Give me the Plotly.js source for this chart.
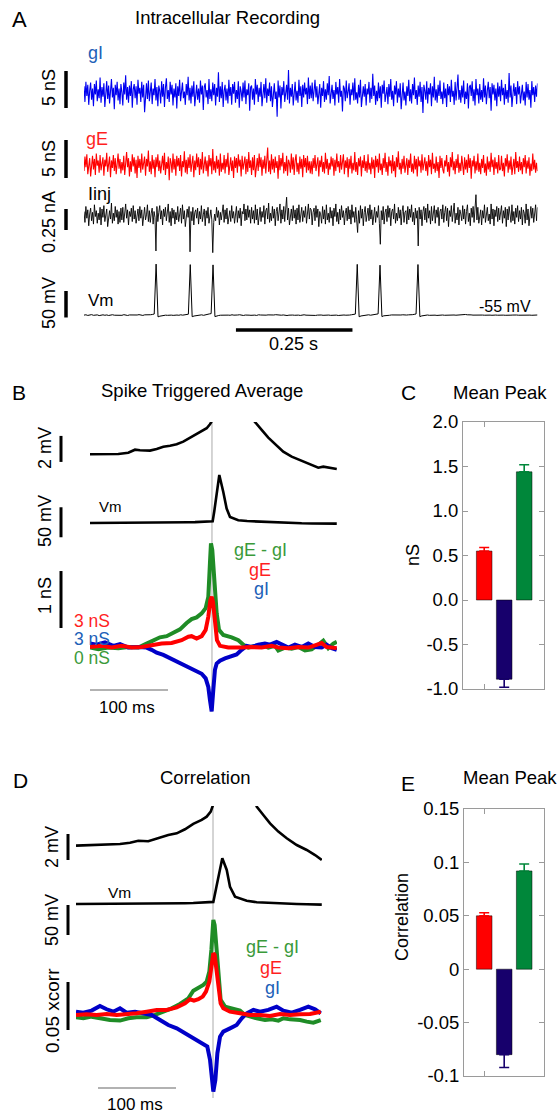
<!DOCTYPE html>
<html><head><meta charset="utf-8">
<script src="https://cdn.plot.ly/plotly-3.0.1.min.js"></script>
<style>html,body{margin:0;padding:0;background:#fff}#plot{width:560px;height:1114px}</style>
</head><body><div id="plot"></div>
<script>
// ================= DATA =================
// Panel A: samples evenly spaced over the recording (seconds)
const recDuration = 0.973;
const gI_rec = [0.9,-1.2,1.5,-0.4,1.1,-1.6,0.3,1.4,-0.9,0.6,-1.8,1.2,-0.2,1.7,-1.1,0.5,-0.7,2.1,-1.3,0.8,
-0.5,1.3,-1.9,0.2,1.6,-0.8,1.0,-1.4,0.4,1.9,-0.6,0.7,-2.2,1.1,-0.3,1.5,-1.0,0.6,-1.5,1.2,
0.1,-1.7,1.4,-0.2,2.4,-0.9,0.8,-1.3,1.0,-0.4,1.6,-2.0,0.5,1.2,-0.7,0.9,-1.6,1.8,-0.1,0.7,
-1.2,1.5,-0.6,1.1,-2.6,0.4,1.3,-0.8,1.7,-1.1,0.2,1.4,-1.5,0.6,-0.3,1.9,-1.0,0.8,-1.8,1.0,
0.3,-1.4,1.6,-0.5,1.2,-1.9,0.7,2.0,-0.8,0.4,-1.2,1.5,-0.2,1.1,-1.7,0.6,-0.6,1.3,-2.1,0.9,
-0.4,1.8,-1.1,0.5,1.4,-0.7,0.2,-1.6,1.2,-0.3,2.2,-1.0,0.7,-1.4,1.0,-0.5,1.6,-1.8,0.3,1.1,
-0.9,0.6,-1.3,1.7,-0.2,1.0,-2.3,0.8,1.3,-0.6,0.4,-1.5,1.9,-0.8,0.5,-1.1,1.4,-0.3,1.2,-1.7,
0.7,-0.5,2.8,-1.2,0.9,-0.7,1.5,-1.9,0.3,1.1,-1.0,0.6,-1.4,1.8,-0.4,0.8,-1.6,1.2,-0.1,1.5,
-1.3,0.4,-0.8,1.6,-2.0,0.9,0.2,-1.1,1.4,-0.6,1.7,-1.5,0.5,-0.3,1.3,-2.4,0.8,1.0,-0.9,0.6,
-1.6,1.9,-0.2,1.1,-1.2,0.7,-0.5,1.5,-1.8,0.4,1.2,-0.7,2.0,-1.3,0.6,-0.4,1.4,-1.1,0.9,-1.9,
0.5,1.3,-0.8,0.2,-3.2,1.7,-0.6,1.0,-2.1,0.8,-0.3,1.6,-1.2,0.4,1.1,-0.9,3.1,-1.4,0.7,-0.5,
1.2,-1.7,0.6,1.5,-1.0,0.3,-1.3,1.8,-0.4,0.9,-1.9,1.1,-0.6,1.4,-0.2,0.7,-1.5,2.1,-0.8,1.0,
-0.7,1.4,-1.1,0.3,1.8,-0.6,0.9,-1.5,0.2,1.2,-2.0,0.7,-0.4,1.6,-1.2,0.5,-0.9,1.3,-0.3,2.3,
-1.4,0.6,1.1,-0.8,0.4,-1.7,1.5,-0.2,0.8,-1.3,1.9,-0.5,0.3,-2.5,1.0,0.6,-1.1,1.7,-0.7,0.2,
1.3,-1.6,0.5,-0.3,1.4,-1.0,2.0,-0.9,0.1,-1.4,1.1,-0.6,1.8,-1.9,0.4,0.9,-0.5,1.2,-1.7,0.6,
-0.2,1.5,-1.3,0.7,-0.8,2.6,-0.4,1.0,-1.6,0.3,-1.1,1.4,-0.7,0.9,-2.0,1.1,-0.1,1.7,-1.2,0.4,
0.8,-1.5,1.2,-0.5,1.9,-0.9,0.3,-1.8,1.0,-0.2,1.6,-1.3,0.6,-0.6,1.3,-2.2,0.7,1.4,-1.0,0.2,
-1.7,0.9,-0.4,1.8,-1.1,0.5,-1.4,1.2,-0.3,2.1,-0.8,0.4,-1.6,1.0,-0.5,1.5,-1.2,0.8,-2.7,1.1,
0.3,-0.9,1.6,-1.4,0.7,-0.2,1.3,-1.8,0.9,-0.6,2.2,-1.0,0.5,-1.3,1.1,-0.4,1.7,-0.8,0.2,-1.5,
1.4,-0.7,0.6,-1.9,1.2,-0.3,0.9,-1.2,1.8,-0.5,0.3,-1.6,1.5,-1.0,0.7,2.5,-0.9,0.4,-1.3,1.0,
-0.6,1.7,-1.5,0.2,-0.8,1.3,-2.1,0.8,1.1,-0.4,1.6,-1.1,0.5,-1.7,1.9,-0.3,0.6,-1.4,1.2,-0.9,
0.4,-1.2,2.0,-0.6,1.0,-1.5,0.3,1.5,-0.7,0.8,-2.4,1.3,-0.2,1.1,-1.0,0.6,-1.8,1.4,-0.5,0.9,
-1.1,1.8,-0.3,0.7,-1.6,1.2,-0.8,0.4,-1.3,2.7,-0.6,1.0,-1.9,0.5,1.3,-0.4,0.8,-1.5,1.6,-0.2,
0.9,-1.4,0.5,1.1,-1.0,0.2,-1.7,1.5,-0.6,1.2,-0.9,0.4,-2.0,1.6,-0.3,0.8,-1.2,1.0,-0.5,1.3];
const gE_rec = [-0.8,1.1,-0.3,1.4,-1.2,0.5,0.9,-1.5,0.2,1.2,-0.6,0.8,-1.3,1.5,-0.1,0.6,-1.0,1.3,-0.7,0.4,
1.0,-1.4,0.7,-0.2,1.6,-0.9,0.3,1.1,-1.6,0.6,-0.4,1.3,-0.8,0.9,-1.2,0.2,1.5,-0.5,0.8,-1.1,
0.4,-0.7,1.2,-1.3,0.6,1.7,-0.3,0.9,-1.5,0.5,-0.9,1.4,-0.2,1.0,-1.1,0.7,-1.7,1.2,-0.4,0.8,
-1.0,1.5,-0.6,0.3,1.1,-1.4,0.8,-0.2,1.9,-0.9,0.5,-1.2,1.3,-0.5,0.7,-1.6,1.0,-0.3,1.4,-0.8,
0.6,-1.1,0.2,1.2,-0.7,1.6,-1.3,0.4,-0.5,1.1,-2.0,0.9,0.3,-1.0,1.5,-0.6,0.8,-1.4,1.2,-0.2,
0.9,-0.8,1.3,-1.5,0.5,-0.3,1.8,-1.0,0.7,-1.2,1.0,-0.4,1.4,-0.9,0.2,1.2,-1.6,0.6,-0.7,1.5,
-0.3,1.0,-1.3,0.8,-0.6,1.7,-1.1,0.4,1.1,-0.8,0.6,-1.5,1.3,-0.2,0.9,-1.2,2.1,-0.7,0.5,-1.0,
1.2,-0.5,0.7,-1.4,1.5,-0.9,0.3,-0.6,1.3,-1.1,0.8,-0.3,1.6,-1.3,0.4,1.0,-0.8,0.6,-1.7,1.1,
-0.4,0.9,-1.0,1.4,-0.2,0.7,-1.5,1.2,-0.6,0.5,1.1,-1.2,0.8,-0.9,1.7,-0.4,0.6,-1.3,1.0,-0.7,
1.3,-1.6,0.4,0.9,-0.8,1.5,-0.3,1.0,-1.4,0.7,-0.5,1.2,-1.1,0.3,2.3,-0.9,0.6,-1.2,1.4,-0.6,
0.8,-1.0,1.1,-0.4,0.5,-1.8,1.3,-0.7,0.9,-0.2,1.6,-1.1,0.4,-0.8,1.2,-1.4,0.7,0.2,-1.0,1.5,
-0.6,1.0,-1.3,0.6,1.4,-0.9,0.3,-1.2,1.1,-0.5,0.8,-1.6,1.3,-0.3,0.9,-1.0,1.2,-0.7,0.5,-1.1,
0.5,-1.2,0.9,-0.4,1.3,-0.8,0.2,1.0,-1.5,0.6,-0.3,1.2,-0.9,0.4,-1.1,1.6,-0.5,0.8,-1.3,0.3,
-0.6,1.1,-0.2,0.9,-1.4,0.7,-0.8,1.5,-0.3,0.5,-1.0,1.3,-0.6,0.2,1.4,-1.2,0.6,-0.4,1.0,-1.6,
0.8,-0.5,1.2,-1.1,0.3,-0.7,1.7,-0.9,0.4,-1.3,0.9,-0.2,1.1,-1.5,0.6,-0.4,1.3,-0.8,0.5,-1.0,
1.4,-0.6,0.3,-1.2,1.0,-0.5,0.7,-1.7,1.2,-0.3,0.8,-1.0,1.5,-0.7,0.2,-1.3,0.9,-0.4,1.6,-0.9,
0.4,-1.4,1.1,-0.2,0.6,-1.1,1.3,-0.8,0.5,-1.6,1.0,-0.3,1.8,-0.6,0.3,-1.2,0.8,-0.5,1.2,-1.0,
-0.3,0.9,-1.3,0.7,-0.4,1.5,-0.9,0.2,-1.1,1.2,-0.6,0.8,-1.5,1.1,-0.2,0.6,-1.0,1.4,-0.7,0.3,
1.0,-0.8,0.5,-1.4,1.3,-0.3,0.7,-1.2,1.6,-0.5,0.2,-1.0,1.1,-0.8,0.4,-1.7,1.2,-0.4,0.9,-0.6,
-1.1,0.6,-0.2,1.3,-0.9,0.4,-1.5,1.0,-0.3,1.7,-0.7,0.5,-1.2,0.8,-0.4,1.4,-1.0,0.3,-0.8,1.2,
0.2,-1.3,1.0,-0.6,0.7,-1.0,1.4,-0.4,0.9,-1.8,0.6,-0.2,1.2,-1.1,0.5,-0.7,1.5,-0.9,0.3,-1.2,
0.8,-0.4,1.3,-1.0,0.2,-1.4,1.1,-0.6,0.5,-0.9,1.6,-0.3,0.7,-1.3,1.0,-0.5,0.4,-1.1,1.3,-0.7,
-0.5,1.2,-0.8,0.3,-1.5,0.9,-0.2,1.4,-1.0,0.6,-0.6,1.1,-1.3,0.4,0.8,-1.2,1.7,-0.4,0.5,-0.9,
1.1,-0.7,0.4,-1.2,0.9,-0.3,1.3,-1.1,0.6,-0.5,1.0,-1.4,0.2,-0.8,1.5,-0.6,0.7,-1.0,0.3,-0.8];
const iinj_rec = [0.05,-0.08,0.11,-0.03,0.07,-0.12,0.02,0.09,-0.06,0.04,-0.10,0.13,-0.01,0.06,-0.09,0.03,-0.05,0.10,-0.11,0.08,
-0.02,0.12,-0.07,0.04,0.08,-0.13,0.01,0.06,-0.04,0.15,-0.09,0.03,-0.06,0.11,-0.02,0.07,-0.10,0.05,-0.08,0.09,
-0.05,0.10,-0.08,0.02,0.14,-0.03,0.07,-0.11,0.05,-0.01,0.09,-0.07,0.12,-0.04,0.06,-0.09,0.04,0.08,-0.06,0.11,
-0.03,0.07,-0.12,0.04,0.10,-0.05,0.01,0.13,-0.07,0.06,-0.08,0.03,0.09,-0.10,0.05,-0.02,-0.42,0.11,-0.07,0.04,
0.12,-0.04,0.06,-0.11,0.08,-0.01,0.10,-0.06,0.03,0.14,-0.08,0.05,-0.12,0.09,-0.03,0.07,-0.10,0.04,-0.05,0.11,
-0.07,0.02,0.09,-0.09,0.13,-0.04,0.06,-0.13,0.03,0.08,-0.02,0.11,-0.43,0.05,-0.06,0.10,-0.11,0.04,0.07,-0.03,
0.09,-0.10,0.05,-0.04,0.12,-0.07,0.01,0.08,-0.12,0.06,-0.03,0.10,-0.09,0.04,0.07,-0.05,-0.44,-0.08,0.02,-0.06,
0.10,-0.02,0.06,-0.11,0.04,-0.05,0.04,0.13,-0.08,0.07,-0.04,0.09,-0.10,0.03,0.06,-0.07,0.12,-0.03,0.05,-0.09,
0.04,0.11,-0.08,0.06,-0.03,0.09,-0.12,0.05,0.02,0.14,-0.06,0.08,-0.05,0.12,-0.02,0.07,-0.09,0.10,-0.04,0.06,
-0.09,0.13,-0.05,0.08,-0.11,0.03,0.10,-0.07,0.05,-0.02,0.12,-0.10,0.06,0.09,-0.04,0.15,-0.08,0.03,-0.06,0.11,
-0.03,0.08,-0.12,0.05,0.10,-0.06,0.02,0.14,-0.09,0.07,-0.04,0.11,-0.07,0.06,0.22,-0.05,0.09,-0.11,0.04,0.08,
-0.06,0.12,-0.03,0.07,-0.10,0.09,-0.05,0.13,-0.08,0.04,0.10,-0.07,0.06,-0.02,0.11,-0.09,0.05,0.14,-0.04,0.09,
0.07,-0.11,0.04,0.09,-0.06,0.12,-0.02,0.08,-0.13,0.05,0.01,-0.09,0.11,-0.04,0.07,-0.10,0.13,-0.05,0.03,-0.08,
0.10,-0.03,0.06,-0.12,0.09,-0.01,0.14,-0.07,0.04,-0.10,0.08,-0.05,0.12,-0.02,0.06,-0.11,0.03,0.09,-0.06,0.11,
-0.04,0.07,-0.10,0.13,-0.02,0.05,-0.08,0.10,-0.05,-0.20,0.06,-0.09,0.12,-0.03,0.08,-0.12,0.04,0.11,-0.07,0.02,
0.09,-0.06,0.13,-0.04,0.07,-0.11,0.03,0.10,-0.08,0.05,-0.02,0.12,-0.09,-0.34,0.06,-0.05,0.11,-0.10,0.04,0.08,
-0.07,0.12,-0.02,0.09,-0.12,0.05,0.08,-0.04,0.14,-0.09,0.03,-0.06,0.10,-0.03,0.07,-0.11,0.05,0.12,-0.08,0.04,
0.06,-0.10,0.11,-0.05,0.08,-0.02,0.13,-0.07,0.04,-0.11,0.09,-0.03,0.06,-0.36,0.10,-0.04,0.07,-0.12,0.05,0.11,
-0.05,0.09,-0.08,0.14,-0.03,0.06,-0.10,0.11,-0.06,0.03,0.12,-0.09,0.07,-0.02,0.10,-0.12,0.05,0.08,-0.04,0.13,
-0.08,0.04,0.11,-0.06,0.09,-0.13,0.06,-0.01,0.12,-0.07,0.05,0.15,-0.09,0.03,-0.05,0.10,-0.11,0.07,0.02,-0.06,
0.12,-0.04,0.08,-0.10,0.05,0.13,-0.07,0.03,-0.12,0.09,-0.02,0.11,-0.08,0.06,0.25,-0.05,0.10,-0.09,0.04,0.07,
-0.11,0.06,-0.03,0.13,-0.08,0.05,0.10,-0.06,0.02,-0.10,0.14,-0.04,0.08,-0.12,0.07,-0.01,0.11,-0.07,0.09,-0.05,
0.04,0.12,-0.09,0.06,-0.03,0.10,-0.13,0.08,-0.05,0.11,0.02,-0.08,0.13,-0.06,0.05,-0.10,0.09,-0.02,0.12,-0.07,
0.06,-0.04,0.10,-0.11,0.07,0.03,-0.09,0.14,-0.05,0.08,-0.12,0.05,0.11,-0.03,0.09,-0.08,0.04,0.13,-0.06,0.10];
const vm_rec = [-55.2,-54.6,-55.8,-55.1,-54.3,-55.6,-55.0,-54.8,-56.1,-55.3,-54.7,-55.5,-54.9,-55.9,-55.2,-54.5,-55.4,-55.7,-54.8,-55.1,
-55.6,-54.4,-55.3,-55.9,-54.9,-55.2,-54.6,-55.7,-55.0,-54.3,-55.5,-55.8,-54.7,-55.1,-55.4,-54.5,-54.0,-53.2,41.0,-58.5,
-57.2,-56.4,-55.8,-55.3,-55.6,-54.9,-55.2,-55.7,-54.8,-55.1,-55.5,-54.6,-55.3,-55.0,-54.2,-53.5,40.0,-58.2,-56.9,-56.0,
-55.4,-55.1,-54.7,-55.6,-54.4,-53.8,-53.0,-52.4,39.5,-58.0,-56.6,-55.9,-55.4,-55.0,-55.7,-54.8,-55.2,-55.5,-54.6,-55.3,
-55.8,-55.0,-54.5,-55.4,-55.9,-55.1,-54.7,-55.3,-55.6,-54.9,-55.2,-55.8,-54.6,-55.0,-55.5,-55.9,-55.3,-54.8,-55.1,-55.6,
-55.0,-54.4,-55.2,-55.7,-55.4,-54.9,-55.6,-56.0,-55.3,-54.8,-55.1,-55.5,-54.7,-55.2,-55.8,-55.0,-54.6,-55.3,-55.6,-55.1,
-54.9,-55.5,-55.8,-55.2,-54.7,-55.0,-55.6,-55.3,-54.5,-55.1,-55.7,-55.4,-54.8,-55.2,-55.9,-55.3,-54.6,-55.0,-55.4,-55.7,
-55.1,-54.5,-54.0,-53.3,40.5,-58.3,-56.8,-55.9,-55.3,-55.0,-54.6,-55.4,-55.1,-54.3,-53.7,-52.9,39.0,-58.0,-56.5,-55.7,
-55.2,-55.5,-54.9,-55.1,-55.6,-54.8,-55.3,-55.0,-54.6,-55.4,-55.1,-54.7,-55.2,-54.4,-53.8,-53.1,40.2,-58.1,-56.7,-55.8,
-55.4,-55.0,-55.6,-55.2,-54.7,-55.3,-55.8,-55.1,-54.6,-55.0,-55.5,-55.2,-54.8,-54.3,-54.6,-55.0,-55.4,-54.9,-54.5,-54.1,
-54.4,-54.0,-54.6,-54.2,-54.8,-55.2,-54.9,-55.3,-55.0,-54.7,-55.1,-55.4,-55.0,-54.6,-55.2,-55.5,-54.9,-55.1,-55.4,-55.0,
-54.7,-55.2,-55.5,-55.0,-54.8,-55.3,-55.1,-54.6,-55.0,-55.4,-55.2,-54.9,-55.3,-55.0,-54.7,-55.2,-55.5,-55.1,-54.8,-55.0];

// Panel B: spike-triggered averages (time in ms)
const staVm_t = [-156.4,-137.2,-120.1,-107.3,-98.7,-92.3,-79.5,-70.9,-62.4,-53.8,-45.3,-36.8,-30.4,-21.8,-13.2,-6.8,-2.6,-0.4,0.9,3.0,6.0,9.4,14.5,18.8,23.1,33.7,45.0,57.3,63.7,72.2,82.9,91.4,102.2,115.0,127.8,136.3,142.7,151.3,160.0];
const staVm_v = [-57.0,-57.0,-56.98,-56.88,-56.65,-56.69,-56.72,-56.59,-56.42,-56.34,-56.23,-56.03,-55.82,-55.52,-55.26,-55.0,-54.69,-54.49,-54.0,-37.0,-10.0,23.0,-5.3,-33.0,-47.0,-52.5,-53.8,-54.62,-55.13,-55.72,-56.28,-56.8,-57.18,-57.49,-57.77,-58.03,-57.95,-58.03,-58.13];
const staDiff_t = [-156.4,-145.7,-132.9,-120.1,-107.3,-94.4,-83.8,-75.2,-66.7,-58.1,-49.6,-41.0,-32.5,-26.1,-19.7,-13.2,-8.1,-4.7,-2.6,-1.3,0.4,3.0,6.0,9.0,14.5,25.2,33.8,40.2,46.6,55.1,63.7,72.2,80.8,85.0,93.6,102.1,110.7,119.2,127.8,136.3,142.7,149.1,155.5,160.0];
const staDiff = [-0.01,-0.04,-0.01,-0.02,0.0,-0.01,0.06,0.12,0.17,0.19,0.25,0.31,0.42,0.49,0.52,0.59,0.68,0.88,1.47,1.82,1.70,1.18,0.59,0.30,0.21,0.17,0.12,0.04,-0.01,0.02,0.04,-0.01,0.02,-0.06,-0.01,-0.03,0.0,-0.06,-0.04,0.04,0.11,-0.02,0.06,0.09];
const staGE_t = [-156.4,-141.5,-128.6,-115.8,-103.0,-90.2,-77.4,-64.5,-51.7,-38.9,-30.3,-26.1,-19.7,-13.2,-8.1,-4.7,-2.1,-0.4,1.3,3.8,6.4,10.3,20.9,38.0,50.9,63.7,76.5,85.0,97.9,110.7,123.5,132.1,140.6,147.0,155.5,160.0];
const staGE = [3.00,3.02,2.99,3.02,2.99,3.00,3.03,3.06,3.07,3.12,3.18,3.19,3.15,3.19,3.30,3.53,3.82,3.88,3.79,3.42,3.12,3.02,2.99,2.99,3.00,2.99,3.02,2.99,2.98,3.00,2.99,3.03,3.07,3.00,2.99,2.98];
const staGI_t = [-156.4,-147.9,-137.2,-126.5,-117.9,-107.3,-94.4,-83.8,-77.4,-70.9,-62.4,-53.8,-45.3,-36.8,-28.2,-19.7,-13.2,-8.1,-4.7,-2.6,-0.4,1.7,3.8,6.0,10.3,16.7,25.2,31.6,38.0,44.4,50.9,59.4,67.9,74.4,82.9,89.3,97.9,106.4,115.0,123.5,132.1,140.6,147.0,153.5,160.0];
const staGI = [3.06,3.04,3.08,3.02,3.05,2.99,3.00,2.99,2.95,2.90,2.86,2.80,2.74,2.68,2.63,2.57,2.53,2.45,2.30,2.07,1.87,2.25,2.60,2.71,2.76,2.80,2.84,2.87,2.95,3.02,3.00,3.04,3.06,3.04,3.09,3.04,2.99,3.04,3.00,3.06,3.00,2.99,3.04,2.98,2.95];

// Panel C: mean peak conductance (nS)
const barLabels = ['gE', 'gI', 'gE - gI'];
const peakNS = [0.55, -0.89, 1.44];
const peakNS_err = [0.04, 0.09, 0.08];
const nsTickVals = [-1, -0.5, 0, 0.5, 1, 1.5, 2];
const nsTickText = ['-1.0', '-0.5', '0.0', '0.5', '1.0', '1.5', '2.0'];

// Panel D: correlation (time in ms)
const corVm_t = [-175.6,-157.7,-140.6,-119.2,-106.4,-95.8,-83.0,-70.1,-57.3,-46.5,-35.9,-25.3,-14.5,-8.1,-2.9,-0.4,0.4,4.0,8.0,11.9,17.6,21.8,28.2,43.2,56.0,64.5,73.1,83.7,94.5,107.3,120.1,130.8,139.4];
const corVm_v = [-57.0,-56.95,-56.89,-56.87,-56.77,-56.62,-56.66,-56.43,-56.18,-56.05,-55.74,-55.33,-55.02,-54.77,-54.38,-53.95,-53.5,-30.7,-5.8,19.2,-0.3,-28.2,-44.8,-51.5,-54.0,-54.64,-55.28,-55.92,-56.43,-56.95,-57.33,-57.72,-58.1];
const corDiff_t = [-175.6,-166.2,-155.6,-144.9,-132.1,-119.2,-108.5,-97.9,-85.0,-74.4,-63.7,-53.0,-42.3,-31.6,-25.2,-18.8,-12.4,-8.1,-4.7,-2.1,0.4,2.1,4.7,7.3,9.8,15.4,26.1,34.6,41.0,49.6,56.0,66.7,75.2,83.8,90.2,98.7,111.5,120.1,128.6,138.1];
const corDiff = [-0.0035,-0.0045,-0.0028,-0.0045,-0.0063,-0.0069,-0.0045,-0.0035,-0.0035,-0.001,0.0024,0.0059,0.0104,0.0163,0.0243,0.0267,0.0302,0.0337,0.0441,0.0667,0.0979,0.0927,0.0667,0.0319,0.0146,0.0076,0.0059,0.0035,-0.001,-0.0035,-0.0045,-0.0063,-0.0056,-0.0069,-0.0045,-0.0056,-0.0063,-0.008,-0.009,-0.0063];
const corGE_t = [-175.6,-162.0,-149.1,-136.3,-123.5,-110.7,-97.9,-85.0,-72.2,-59.4,-46.5,-35.9,-29.5,-24.4,-18.8,-13.2,-9.0,-4.7,-1.7,0.4,2.1,4.7,7.3,9.8,13.2,21.8,34.6,47.4,60.3,73.1,85.9,98.7,111.5,124.4,138.1];
const corGE = [-0.001,-0.0003,-0.001,0.0,-0.001,-0.0003,0.0007,0.0024,0.0042,0.0042,0.0069,0.0111,0.0153,0.0139,0.0153,0.0181,0.0233,0.0337,0.0493,0.0632,0.0615,0.0458,0.025,0.0111,0.0059,0.0024,0.0007,-0.001,-0.001,-0.0021,0.0,-0.001,-0.0003,0.0,0.0024];
const corGI_t = [-175.6,-166.2,-155.6,-144.9,-136.3,-127.8,-119.2,-110.7,-100.0,-89.3,-78.6,-67.9,-57.3,-46.5,-35.9,-25.2,-14.5,-7.3,-3.8,-1.3,0.4,3.0,5.6,9.0,13.2,21.8,30.3,36.8,43.2,51.7,60.3,70.9,81.6,90.2,100.9,111.5,122.2,130.8,138.1];
const corGI = [0.0024,0.0014,0.0035,0.0083,0.0049,0.0024,0.0059,0.0014,0.0024,0.0007,-0.001,-0.0063,-0.0115,-0.015,-0.0201,-0.0253,-0.0306,-0.034,-0.0479,-0.0688,-0.0809,-0.0688,-0.041,-0.0236,-0.0184,-0.015,-0.0115,-0.0045,0.0007,0.0042,0.0024,0.0042,0.0076,0.0035,0.0014,0.0042,0.0076,0.0049,0.0007];

// Panel E: mean peak correlation
const peakCorr = [0.050, -0.080, 0.092];
const peakCorr_err = [0.0028, 0.012, 0.0065];
const corrTickVals = [-0.1, -0.05, 0, 0.05, 0.1, 0.15];
const corrTickText = ['-0.1', '-0.05', '0', '0.05', '0.1', '0.15'];

// ================= LAYOUT HELPERS =================
const W = 560, H = 1114;
const FONT = 'Liberation Sans, Arial, Helvetica, sans-serif';
const xd = (a, b) => [a / W, b / W];
const yd = (a, b) => [1 - b / H, 1 - a / H];
const PX = v => v / W;
const PY = v => 1 - v / H;
const hid = o => Object.assign({visible: false, fixedrange: true, showgrid: false, zeroline: false}, o);

const C_BLUE = '#0000f0', C_RED = '#ff0000', C_GREEN = '#1f8c26';
const T_BLUE = '#2160b8', T_RED = '#ff1f1f', T_GREEN = '#3a9a3a';
const barColors = ['#ff0000', '#17006c', '#00873a'];

const traces = [];
function rec(y, ya, color, w) {
  traces.push({type: 'scatter', mode: 'lines', x0: 0, dx: recDuration / (y.length - 1), y: y, xaxis: 'x', yaxis: ya,
    line: {color: color, width: w}, hoverinfo: 'skip'});
}
rec(gI_rec, 'y', C_BLUE, 1.1);
rec(gE_rec, 'y2', C_RED, 1.1);
rec(iinj_rec, 'y3', '#000', 0.9);
rec(vm_rec, 'y4', '#000', 1);

function line(x, y, xa, ya, color, w) {
  traces.push({type: 'scatter', mode: 'lines', x: x, y: y, xaxis: xa, yaxis: ya,
    line: {color: color, width: w}, hoverinfo: 'skip'});
}
// B
line(staVm_t, staVm_v, 'x2', 'y5', '#000', 2.6);
line(staVm_t, staVm_v, 'x2', 'y6', '#000', 2.6);
line(staDiff_t, staDiff, 'x2', 'y7', C_GREEN, 4);
line(staGI_t, staGI, 'x2', 'y8', '#0000c8', 4);
line(staGE_t, staGE, 'x2', 'y8', C_RED, 4);
// D
line(corVm_t, corVm_v, 'x4', 'y10', '#000', 2.6);
line(corVm_t, corVm_v, 'x4', 'y11', '#000', 2.6);
line(corDiff_t, corDiff, 'x4', 'y12', C_GREEN, 4);
line(corGI_t, corGI, 'x4', 'y12', '#0000c8', 4);
line(corGE_t, corGE, 'x4', 'y12', C_RED, 4);

function bars(vals, errs, xa, ya) {
  vals.forEach((v, i) => {
    traces.push({type: 'bar', x: [i + 1], y: [v], name: barLabels[i], xaxis: xa, yaxis: ya, width: 0.78,
      marker: {color: barColors[i], line: {color: 'rgba(0,0,0,0.7)', width: 0.7}},
      error_y: {type: 'data', symmetric: false, array: [v >= 0 ? errs[i] : 0], arrayminus: [v < 0 ? errs[i] : 0],
        color: barColors[i], thickness: 1.6, width: 5},
      hoverinfo: 'skip'});
  });
}
bars(peakNS, peakNS_err, 'x3', 'y9');
bars(peakCorr, peakCorr_err, 'x5', 'y13');

const boxAxis = {showline: true, linecolor: '#9a9a9a', linewidth: 1, mirror: 'ticks', ticks: 'inside', ticklen: 5,
  tickcolor: '#9a9a9a', tickwidth: 1, showgrid: false, zeroline: false, fixedrange: true,
  tickfont: {size: 18.5, color: '#000', family: FONT}};

const layout = {
  width: W, height: H, margin: {l: 0, r: 0, t: 0, b: 0},
  paper_bgcolor: '#fff', plot_bgcolor: 'rgba(0,0,0,0)', showlegend: false, barmode: 'overlay',
  font: {family: FONT, color: '#000'},
  xaxis: hid({domain: xd(84, 537.5), range: [0, recDuration], anchor: 'y4'}),
  yaxis: hid({domain: yd(60, 126), range: [-4.46, 4.46], anchor: 'x'}),
  yaxis2: hid({domain: yd(132, 198), range: [-4.34, 4.34], anchor: 'x'}),
  yaxis3: hid({domain: yd(185, 258), range: [-0.5036, 0.3655], anchor: 'x'}),
  yaxis4: hid({domain: yd(258, 322), range: [-68.2, 52.5], anchor: 'x'}),
  xaxis2: hid({domain: xd(90, 337), range: [-156.4, 160.3], anchor: 'y5'}),
  yaxis5: hid({domain: yd(422, 480), range: [-58.98, -54.52], anchor: 'x2'}),
  yaxis6: hid({domain: yd(470, 545), range: [-93.7, 31.3], anchor: 'x2'}),
  yaxis7: hid({domain: yd(530, 718), range: [-1.246, 2.053], anchor: 'x2'}),
  yaxis8: hid({domain: yd(530, 718), range: [1.754, 5.053], anchor: 'x2', overlaying: 'y7'}),
  xaxis3: Object.assign({}, boxAxis, {domain: xd(463, 544), range: [-0.06, 3.99], anchor: 'y9', tickvals: [1], showticklabels: false}),
  yaxis9: Object.assign({}, boxAxis, {domain: yd(422, 689), range: [-1, 2], anchor: 'x3', tickvals: nsTickVals, ticktext: nsTickText}),
  xaxis4: hid({domain: xd(76, 322), range: [-175.6, 139.7], anchor: 'y10'}),
  yaxis10: hid({domain: yd(806, 870), range: [-58.87, -53.95], anchor: 'x4'}),
  yaxis11: hid({domain: yd(852, 940), range: [-117, 29.67], anchor: 'x4'}),
  yaxis12: hid({domain: yd(905, 1100), range: [-0.0896, 0.1135], anchor: 'x4'}),
  xaxis5: Object.assign({}, boxAxis, {domain: xd(464, 544), range: [-0.01, 3.99], anchor: 'y13', tickvals: [1], showticklabels: false}),
  yaxis13: Object.assign({}, boxAxis, {domain: yd(809, 1076), range: [-0.1, 0.15], anchor: 'x5', tickvals: corrTickVals, ticktext: corrTickText})
};

// scale bars and guides
const shapes = [];
function vbar(xpx, yref, y0, y1, w) {
  shapes.push({type: 'line', xref: 'paper', yref: yref, x0: PX(xpx), x1: PX(xpx), y0: y0, y1: y1, line: {color: '#000', width: w}});
}
function hbar(xref, x0, x1, ypx, color, w) {
  shapes.push({type: 'line', xref: xref, yref: 'paper', x0: x0, x1: x1, y0: PY(ypx), y1: PY(ypx), line: {color: color, width: w}});
}
function vguide(xref, ytop, ybot) {
  shapes.push({type: 'line', layer: 'below', xref: xref, yref: 'paper', x0: 0, x1: 0, y0: PY(ytop), y1: PY(ybot), line: {color: '#aaaaaa', width: 1}});
}
// A
vbar(66, 'y', -2.03, 2.97, 3.5);
vbar(66, 'y2', -1.71, 3.29, 3.5);
vbar(66, 'y3', -0.17, 0.08, 3.5);
vbar(66, 'y4', -59.7, -9.7, 3.5);
hbar('x', 0.326, 0.576, 330, '#000', 3.5);
// B
vbar(61, 'y5', -57.59, -55.59, 3);
vbar(61, 'y6', -80.8, -30.8, 3);
vbar(61, 'y8', 3.333, 4.333, 3);
hbar('x2', -156.4, -56.4, 690, '#999', 1.5);
vguide('x2', 423, 712);
// D
vbar(68, 'y10', -58.1, -56.1, 3);
vbar(68, 'y11', -108.67, -58.67, 3);
vbar(68, 'y12', -0.0167, 0.0333, 3);
hbar('x4', -147.4, -47.4, 1088, '#999', 1.5);
vguide('x4', 806, 1098);
layout.shapes = shapes;

// text
const ann = [];
function T(text, x, y, o) {
  o = o || {};
  ann.push({text: text, xref: 'paper', yref: 'paper', x: PX(x), y: PY(y), showarrow: false,
    xanchor: o.xa || 'center', yanchor: 'middle', textangle: o.rot ? -90 : 0,
    font: {size: o.size || 18, color: o.color || '#000', family: FONT}});
}
// A
T('A', 19, 20, {size: 22});
T('Intracellular Recording', 227, 18, {size: 18.5});
T('gI', 86, 53, {xa: 'left', color: T_BLUE});
T('gE', 84, 139, {xa: 'left', color: T_RED});
T('Iinj', 86, 194, {xa: 'left'});
T('Vm', 86, 300, {xa: 'left', size: 17});
T('-55 mV', 505, 306, {size: 16});
T('5 nS', 49, 88, {rot: 1});
T('5 nS', 49, 159, {rot: 1});
T('0.25 nA', 49, 222, {rot: 1});
T('50 mV', 49, 303, {rot: 1});
T('0.25 s', 293, 344);
// B
T('B', 19, 393, {size: 21});
T('Spike Triggered Average', 202, 391, {size: 18.5});
T('2 mV', 45, 448, {rot: 1});
T('50 mV', 45, 521, {rot: 1});
T('1 nS', 45, 596, {rot: 1});
T('Vm', 97, 507, {xa: 'left', size: 15});
T('gE - gI', 260, 550, {color: T_GREEN, size: 18});
T('gE', 260, 570, {color: T_RED, size: 18});
T('gI', 261, 589, {color: T_BLUE, size: 18});
T('3 nS', 72, 621, {xa: 'left', color: T_RED, size: 17.5});
T('3 nS', 72, 639, {xa: 'left', color: T_BLUE, size: 17.5});
T('0 nS', 72, 658, {xa: 'left', color: T_GREEN, size: 17.5});
T('100 ms', 127, 707, {size: 17});
// C
T('C', 408, 393, {size: 21});
T('Mean Peak', 500, 392, {size: 18.5});
T('nS', 413, 555, {rot: 1});
// D
T('D', 20, 780, {size: 21});
T('Correlation', 205, 778, {size: 18.5});
T('2 mV', 52, 847, {rot: 1});
T('50 mV', 52, 920, {rot: 1});
T('0.05 xcorr', 52, 1011, {rot: 1, size: 19});
T('Vm', 106, 892, {xa: 'left', size: 15.5});
T('gE - gI', 272, 947, {color: T_GREEN, size: 18});
T('gE', 271, 968, {color: T_RED, size: 18});
T('gI', 272, 988, {color: T_BLUE, size: 18});
T('100 ms', 135, 1104, {size: 17});
// E
T('E', 408, 783, {size: 21});
T('Mean Peak', 510, 778, {size: 18.5});
T('Correlation', 402, 917, {rot: 1});
layout.annotations = ann;

Plotly.newPlot('plot', traces, layout, {staticPlot: true, displayModeBar: false});
</script>
</body></html>
